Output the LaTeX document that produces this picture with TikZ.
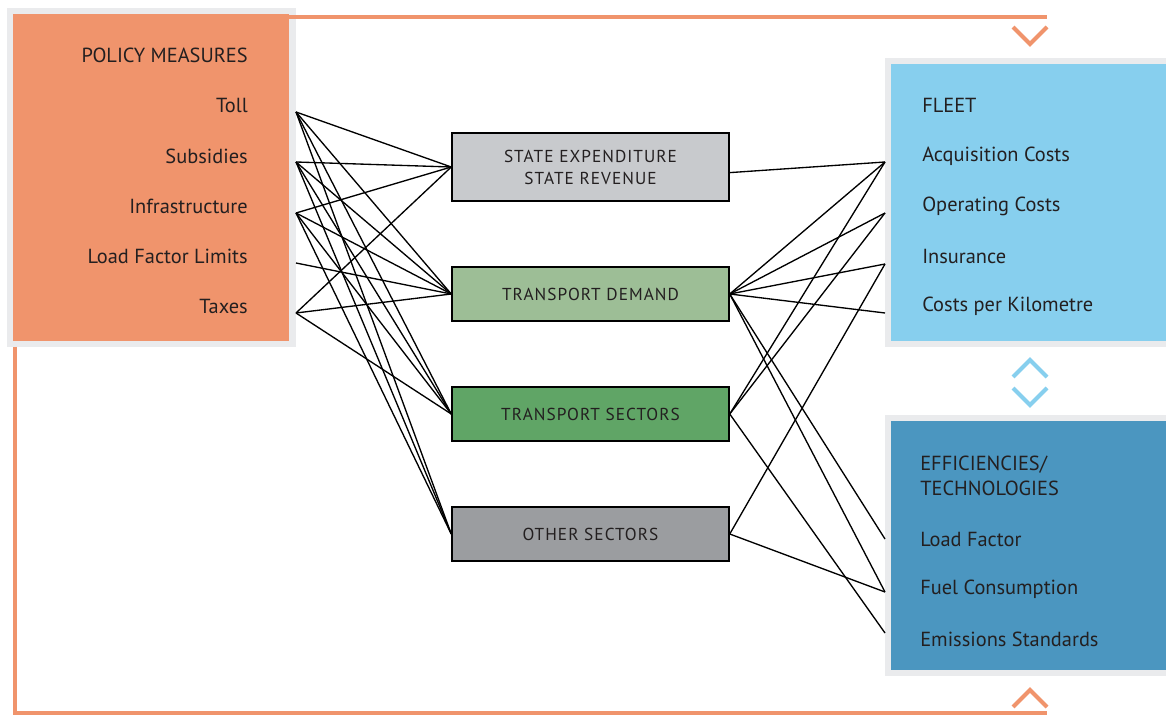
\documentclass[tikz,border=0pt]{standalone}
\usepackage{fontspec}
\setmainfont{PT Sans}
\usetikzlibrary{calc}
\definecolor{policy}{RGB}{240,148,108}
\definecolor{fleet}{RGB}{135,207,238}
\definecolor{effic}{RGB}{75,150,192}
\definecolor{rim}{RGB}{234,235,237}
\definecolor{stategray}{RGB}{200,202,205}
\definecolor{demandgreen}{RGB}{157,190,150}
\definecolor{sectorgreen}{RGB}{96,165,102}
\definecolor{othergray}{RGB}{155,157,160}
\definecolor{ink}{RGB}{35,31,32}

\begin{document}
\begin{tikzpicture}[x=0.025cm, y=-0.025cm,
  lab/.style={font=\fontsize{14.5}{17}\selectfont, text=ink, inner sep=0},
  midbox/.style={draw=black, line width=1pt, minimum width=6.925cm, align=center, text=ink,
    font=\fontsize{12.3}{15.6}\selectfont\addfontfeature{LetterSpace=6}},
  link/.style={black, line width=0.95pt},
  frame/.style={policy, line width=2.9pt},
  chev/.style={line width=2.9pt}]
\useasboundingbox (0,0) rectangle (1166,715);

\fill[rim] (7,8) rectangle (296,347);
\fill[policy] (13,14) rectangle (289,341);
\fill[rim] (885,58) rectangle (1166,347);
\fill[fleet] (891,64) rectangle (1166,341);
\fill[rim] (885,415) rectangle (1166,676);
\fill[effic] (891,421) rectangle (1166,670);

\draw[frame] (289,17) -- (1047,17);
\draw[frame] (15,347) -- (15,713) -- (1047,713);
\draw[chev, policy] (1013,27) -- (1030,44) -- (1047,27);
\draw[chev, policy] (1013,707) -- (1030,690) -- (1047,707);
\draw[chev, fleet] (1013,377) -- (1030,360) -- (1047,377);
\draw[chev, fleet] (1013,388) -- (1030,405) -- (1047,388);

\foreach \n/\t/\y in {pm/POLICY MEASURES/55, pm1/Toll/105, pm2/Subsidies/156,
  pm3/Infrastructure/206, pm4/Load Factor Limits/256, pm5/Taxes/306}
  \node[lab, anchor=east] (\n) at (248,\y) {\t};
\foreach \n/\t/\y in {fl/FLEET/105, fl1/Acquisition Costs/156, fl2/Operating Costs/206,
  fl3/Insurance/256, fl4/Costs per Kilometre/306}
  \node[lab, anchor=west] (\n) at (922,\y) {\t};
\node[lab, anchor=west, align=left, font=\fontsize{14.5}{17.5}\selectfont] (ef) at (920,476) {EFFICIENCIES/\\TECHNOLOGIES};
\foreach \n/\t/\y in {ef1/Load Factor/539, ef2/Fuel Consumption/589, ef3/Emissions Standards/639}
  \node[lab, anchor=west] (\n) at (920,\y) {\t};

\node[midbox, fill=stategray, minimum height=1.7cm] (state) at (590.5,167) {STATE EXPENDITURE\\STATE REVENUE};
\node[midbox, fill=demandgreen, minimum height=1.35cm] (demand) at (590.5,294) {TRANSPORT DEMAND};
\node[midbox, fill=sectorgreen, minimum height=1.35cm] (sectors) at (590.5,414) {TRANSPORT SECTORS};
\node[midbox, fill=othergray, minimum height=1.35cm] (other) at (590.5,534) {OTHER SECTORS};

\foreach \n/\y in {toll/112, subs/162, infra/213, lfl/263, taxes/313}
  \coordinate (\n) at (296,\y);
\foreach \n/\y in {acq/162, oper/213, insur/264, perkm/313, loadf/539, fuel/592, emis/633}
  \coordinate (\n) at (885,\y);

\foreach \a/\b in {toll/state, toll/demand, toll/sectors, toll/other,
  subs/state, subs/demand, subs/sectors, subs/other,
  infra/state, infra/demand, infra/sectors, infra/other,
  lfl/demand, taxes/state, taxes/demand, taxes/sectors}
  \draw[link] (\a) -- (\b.west);
\draw[link] ([yshift=-4pt]state.east) -- (acq);
\foreach \a/\b in {demand/acq, demand/oper, demand/insur, demand/perkm, demand/loadf, demand/fuel,
  sectors/acq, sectors/oper, sectors/emis, other/insur, other/fuel}
  \draw[link] (\a.east) -- (\b);
\end{tikzpicture}
\end{document}
